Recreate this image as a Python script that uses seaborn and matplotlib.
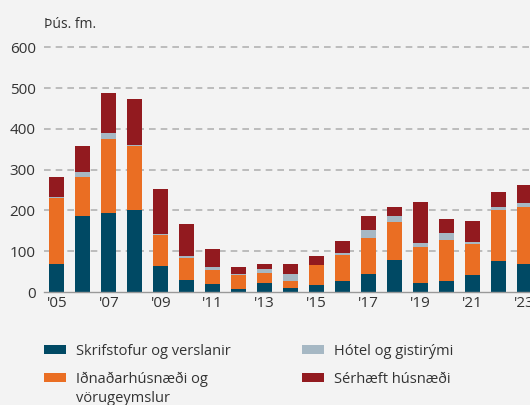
import numpy as np
import pandas as pd
import matplotlib
matplotlib.use('Agg')
import matplotlib.pyplot as plt
from matplotlib.patches import Patch
import seaborn as sns

years = ["'05", "'06", "'07", "'08", "'09", "'10", "'11", "'12", "'13", "'14",
         "'15", "'16", "'17", "'18", "'19", "'20", "'21", "'22", "'23"]
skrifstofur = [69, 187, 194, 202, 64, 30, 20, 7, 22, 10, 17, 27, 44, 79, 22, 27, 42, 76, 69]
idnadar = [162, 96, 182, 155, 76, 54, 34, 35, 25, 17, 48, 64, 89, 93, 89, 101, 76, 126, 140]
hotel = [3, 12, 13, 3, 3, 5, 7, 2, 10, 17, 1, 5, 19, 15, 9, 17, 5, 7, 10]
serhaeft = [49, 62, 98, 112, 110, 78, 45, 17, 12, 25, 23, 29, 35, 22, 101, 35, 52, 37, 44]

labels = ['Skrifstofur og verslanir', 'Iðnaðarhúsnæði og',
          'Hótel og gistirými', 'Sérhæft húsnæði']
colors = ['#004964', '#ea6e23', '#a6b8c4', '#921a1f']

bg = '#f3f3f3'
txt = '#333333'
sns.set_theme(style='white')
plt.rcParams['font.family'] = ['Open Sans', 'DejaVu Sans']

df = pd.DataFrame({'year': years, 's': skrifstofur, 'i': idnadar, 'h': hotel, 'r': serhaeft})
# cumulative heights, drawn tallest first
df['c1'] = df['s']
df['c2'] = df['c1'] + df['i']
df['c3'] = df['c2'] + df['h']
df['c4'] = df['c3'] + df['r']

W, H = 530, 405
fig = plt.figure(figsize=(W / 100, H / 100), dpi=100, facecolor=bg)
ax = fig.add_axes([44 / W, 1 - 292 / H, 486 / W, 255 / H], facecolor=bg)

for col, c in zip(['c4', 'c3', 'c2', 'c1'], colors[::-1]):
    sns.barplot(data=df, x='year', y=col, color=c, width=0.58, saturation=1,
                ax=ax, linewidth=0, zorder=3)

ax.set_yticks(range(0, 601, 100))
for y in range(100, 601, 100):
    ax.axhline(y, color='#b3b3b3', lw=1.2, ls=(0, (4, 3)), zorder=1)

ax.set_xticks(np.arange(0, 19, 2))
ax.set_xticklabels(years[::2])
ax.set_xticks(np.arange(-0.5, 18, 1), minor=True)
ax.set_ylim(0, 625)
ax.set_xlim(-0.5, 18.23)
ax.tick_params(axis='x', which='major', length=0, pad=3, labelsize=11, colors=txt)
ax.tick_params(axis='x', which='minor', length=5, width=1, color='#999999', direction='out')
ax.tick_params(axis='y', length=0, pad=6, labelsize=11, labelcolor=txt)
ax.set_xlabel('')
ax.set_ylabel('')
for s in ['top', 'right', 'left']:
    ax.spines[s].set_visible(False)
ax.spines['bottom'].set_color('#999999')
ax.spines['bottom'].set_linewidth(1)
ax.spines['bottom'].set_zorder(4)

fig.text(44 / W, 1 - 25 / H, 'Þús. fm.', fontsize=10, color=txt, va='center')

handles = [Patch(facecolor=c, edgecolor='none') for c in colors]
leg_kw = dict(loc='upper left', frameon=False, fontsize=10.5, handlelength=1.5,
              handleheight=0.55, handletextpad=0.7, labelspacing=0.86,
              borderpad=0, borderaxespad=0, labelcolor=txt)
fig.legend(handles[:2], labels[:2], bbox_to_anchor=(44 / W, 1 - 344 / H), **leg_kw)
fig.legend(handles[2:], labels[2:], bbox_to_anchor=(302 / W, 1 - 344 / H), **leg_kw)
fig.text(76 / W, 1 - 398 / H, 'vörugeymslur', fontsize=10.5, color=txt, va='center')

fig.savefig('out.png', dpi=100, facecolor=bg)
